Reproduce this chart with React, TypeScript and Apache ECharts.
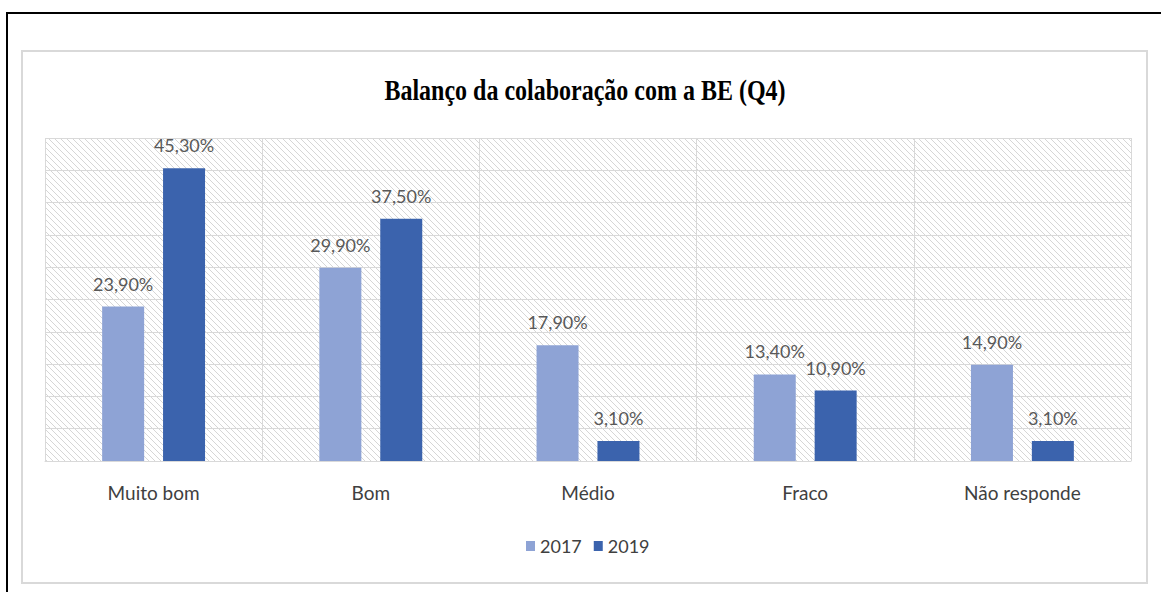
import React, { useEffect, useRef } from "react";
import * as echarts from "echarts";

const categories = ["Muito bom", "Bom", "Médio", "Fraco", "Não responde"];
const series2017 = [23.9, 29.9, 17.9, 13.4, 14.9];
const series2019 = [45.3, 37.5, 3.1, 10.9, 3.1];
const seriesNames = ["2017", "2019"];
const titleText = "Balanço da colaboração com a BE (Q4)";

const GRID = { left: 45, top: 138, right: 1161 - 1131, bottom: 592 - 461 };

const hatchSvg =
  "data:image/svg+xml;utf8," +
  encodeURIComponent(
    '<svg xmlns="http://www.w3.org/2000/svg" width="6" height="6">' +
      '<rect width="6" height="6" fill="#ffffff"/>' +
      '<path d="M-1,-1 L7,7 M-1,5 L1,7 M5,-1 L7,1" stroke="#d6d6d6" stroke-width="1"/>' +
      "</svg>"
  );

const fmt = (v: number) => v.toFixed(2).replace(".", ",") + "%";

export default function App() {
  const ref = useRef<HTMLDivElement>(null);
  useEffect(() => {
    if (!ref.current) return;
    const chart = echarts.init(ref.current, null, { renderer: "svg" });
    const labelStyle = {
      show: true,
      position: "top" as const,
      distance: 14,
      color: "#595959",
      fontFamily: "Lato",
      fontSize: 18,
      formatter: (p: any) => fmt(p.value),
    };
    chart.setOption({
      animation: false,
      backgroundColor: "#ffffff",
      legend: {
        data: seriesNames,
        top: 532,
        left: 521,
        icon: "rect",
        itemWidth: 9,
        itemHeight: 10,
        itemGap: 12,
        textStyle: { fontFamily: "Lato", fontSize: 18, color: "#404040" },
      },
      graphic: [
        {
          type: "rect",
          z: -10,
          shape: { x: 7, y: 13, width: 1200, height: 640 },
          style: { fill: "none", stroke: "#000000", lineWidth: 2 },
        },
        {
          type: "rect",
          z: -10,
          shape: { x: 22, y: 51, width: 1125, height: 532 },
          style: { fill: "none", stroke: "#d9d9d9", lineWidth: 2 },
        },
        {
          type: "rect",
          z: -9,
          shape: { x: 45, y: 138, width: 1086, height: 323 },
          style: {
            fill: { image: hatchSvg, repeat: "repeat", imageWidth: 6, imageHeight: 6 },
            stroke: "none",
          },
        },
        {
          type: "text",
          x: 585,
          y: 90,
          scaleY: 1.2,
          style: {
            text: titleText,
            fontFamily: "Liberation Serif",
            fontWeight: "bold",
            fontSize: 24,
            fill: "#000000",
            align: "center",
            verticalAlign: "middle",
          },
        },
      ],
      grid: GRID,
      xAxis: {
        type: "category",
        data: categories,
        axisTick: { show: false },
        axisLine: { lineStyle: { color: "#d9d9d9", width: 1 } },
        axisLabel: {
          interval: 0,
          margin: 22,
          fontFamily: "Lato",
          fontSize: 19,
          color: "#404040",
        },
        splitLine: { show: true, interval: 0, lineStyle: { color: "#d9d9d9", width: 1 } },
      },
      yAxis: {
        type: "value",
        min: 0,
        max: 50,
        interval: 5,
        axisLabel: { show: false },
        axisLine: { show: false },
        axisTick: { show: false },
        splitLine: { show: true, lineStyle: { color: "#d9d9d9", width: 1 } },
      },
      series: [
        {
          name: seriesNames[0],
          type: "bar",
          data: series2017,
          barWidth: 42,
          barGap: "45%",
          itemStyle: { color: "#8EA3D5" },
          label: labelStyle,
        },
        {
          name: seriesNames[1],
          type: "bar",
          data: series2019,
          barWidth: 42,
          barGap: "45%",
          itemStyle: { color: "#3B63AD" },
          label: labelStyle,
        },
      ],
    });
    return () => chart.dispose();
  }, []);
  return (
    <div
      ref={ref}
      style={{ position: "fixed", left: 0, top: 0, width: 1161, height: 592 }}
    />
  );
}
